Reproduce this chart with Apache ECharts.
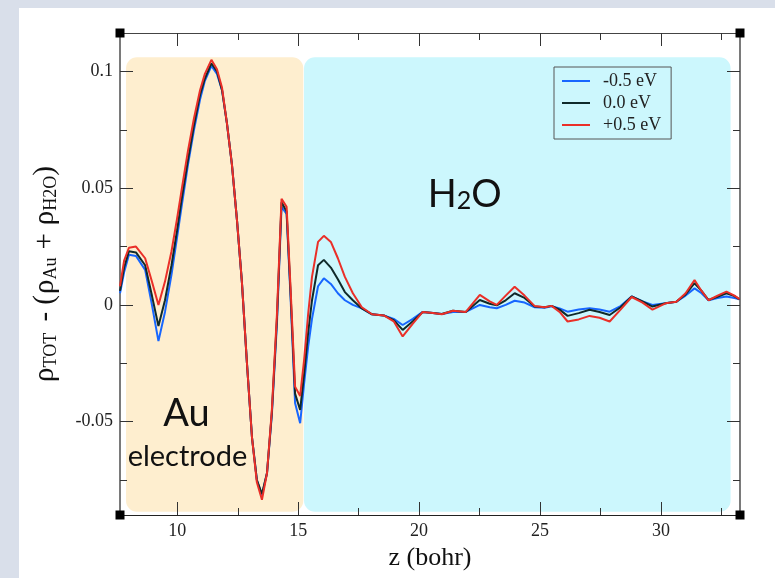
<!DOCTYPE html>
<html>
<head>
<meta charset="utf-8">
<script src="https://cdn.jsdelivr.net/npm/echarts@6/dist/echarts.min.js"></script>
<style>
  html, body { margin: 0; padding: 0; background: #d9dfea; }
  #chart { width: 775px; height: 578px; }
</style>
</head>
<body>
<div id="chart"></div>
<script>
// Position along the slab normal, z (bohr)
const Z = [
  7.63, 7.80, 8.00, 8.29, 8.67, 8.95, 9.22, 9.49, 9.76, 9.99,
  10.19, 10.44, 10.69, 10.94, 11.14, 11.41, 11.64, 11.85, 12.05, 12.26,
  12.47, 12.67, 12.88, 13.09, 13.29, 13.50, 13.71, 13.91, 14.12, 14.31,
  14.52, 14.68, 14.87, 15.08, 15.24, 15.41, 15.57, 15.82, 16.06, 16.35,
  16.64, 16.93, 17.26, 17.63, 18.05, 18.54, 18.95, 19.32, 19.74, 20.15,
  20.57, 20.94, 21.40, 21.93, 22.51, 22.92, 23.21, 23.58, 23.95, 24.36,
  24.78, 25.19, 25.48, 25.81, 26.14, 26.60, 27.05, 27.46, 27.88, 28.33,
  28.79, 29.24, 29.65, 30.19, 30.64, 31.02, 31.39, 31.68, 31.97, 32.34,
  32.71, 33.04, 33.25
];

// Charge density difference at -0.5 eV
const RHO_NEG = [
  0.005, 0.014, 0.0215, 0.021, 0.015, 0.000, -0.0155, -0.003, 0.013, 0.029,
  0.043, 0.060, 0.075, 0.088, 0.096, 0.1024, 0.099, 0.092, 0.078, 0.060,
  0.036, 0.010, -0.025, -0.057, -0.075, -0.0815, -0.072, -0.047, -0.008, 0.042,
  0.039, 0.004, -0.042, -0.0507, -0.034, -0.018, -0.006, 0.008, 0.0114, 0.009,
  0.005, 0.002, 0.000, -0.0015, -0.004, -0.0045, -0.006, -0.0086, -0.006, -0.003,
  -0.0035, -0.0039, -0.003, -0.003, 0.000, -0.001, -0.0014, 0.000, 0.0018, 0.001,
  -0.001, -0.0012, -0.0006, -0.0015, -0.0029, -0.002, -0.0014, -0.002, -0.0029, -0.0005,
  0.0036, 0.0015, 0.000, 0.0007, 0.0014, 0.004, 0.0071, 0.005, 0.002, 0.003,
  0.0036, 0.003, 0.0024
];

// Charge density difference at 0.0 eV
const RHO_ZERO = [
  0.006, 0.016, 0.023, 0.0225, 0.017, 0.004, -0.009, 0.002, 0.017, 0.032,
  0.046, 0.062, 0.077, 0.090, 0.097, 0.1035, 0.100, 0.092, 0.078, 0.060,
  0.036, 0.010, -0.025, -0.057, -0.075, -0.081, -0.072, -0.046, -0.006, 0.044,
  0.040, 0.006, -0.038, -0.045, -0.030, -0.012, 0.002, 0.017, 0.0193, 0.016,
  0.011, 0.0055, 0.002, -0.0015, -0.004, -0.0045, -0.0065, -0.0107, -0.007, -0.003,
  -0.0035, -0.0039, -0.0025, -0.003, 0.0021, 0.0005, -0.0002, 0.002, 0.005, 0.003,
  -0.0007, -0.001, -0.0004, -0.002, -0.0047, -0.0035, -0.0021, -0.003, -0.0043, -0.001,
  0.0036, 0.0015, -0.0007, 0.0007, 0.0014, 0.0045, 0.0093, 0.006, 0.0021, 0.0035,
  0.005, 0.0038, 0.0024
];

// Charge density difference at +0.5 eV
const RHO_POS = [
  0.008, 0.019, 0.0245, 0.025, 0.020, 0.010, 0.000, 0.010, 0.023, 0.037,
  0.050, 0.066, 0.080, 0.092, 0.099, 0.105, 0.101, 0.093, 0.078, 0.060,
  0.036, 0.010, -0.025, -0.057, -0.076, -0.0835, -0.072, -0.045, -0.004, 0.0455,
  0.042, 0.008, -0.035, -0.039, -0.024, -0.004, 0.012, 0.027, 0.0296, 0.027,
  0.020, 0.012, 0.005, -0.001, -0.004, -0.0045, -0.007, -0.0135, -0.008, -0.003,
  -0.0035, -0.004, -0.0025, -0.003, 0.0043, 0.0015, 0.000, 0.004, 0.0078, 0.004,
  -0.0005, -0.001, -0.0004, -0.003, -0.0071, -0.0062, -0.0047, -0.0055, -0.0071, -0.002,
  0.0034, 0.001, -0.002, 0.0007, 0.0014, 0.005, 0.0107, 0.006, 0.002, 0.004,
  0.0057, 0.004, 0.0025
];

const SERIES_NAMES = ['-0.5 eV', '0.0 eV', '+0.5 eV'];
const SERIES_COLORS = ['#1766ff', '#0f2a2a', '#ea2f28'];

// Axis ranges and ticks
const X_MIN = 7.63, X_MAX = 33.27;
const Y_MIN = -0.09, Y_MAX = 0.1165;
const X_MAJOR = [10, 15, 20, 25, 30];
const X_MINOR = [12.5, 17.5, 22.5, 27.5, 32.5];
const Y_MAJOR = [-0.05, 0, 0.05, 0.1];
const Y_MINOR = [-0.075, -0.025, 0.025, 0.075];

// Shaded regions (z span and vertical span in data units)
const AU_SPAN = [7.88, 15.21];
const H2O_SPAN = [15.24, 32.88];
const REGION_V = [-0.0886, 0.1061];

const SERIF = '"Liberation Serif", "Times New Roman", serif';
const SANS = 'Lato, "Open Sans", sans-serif';

const chart = echarts.init(document.getElementById('chart'), null, { renderer: 'canvas' });

function makeXAxis(pos, ticks, len, withLabels, lineColor) {
  return {
    type: 'value', position: pos, min: X_MIN, max: X_MAX,
    axisLine: { show: !!lineColor, onZero: false, lineStyle: { color: lineColor || '#000', width: 1 } },
    axisTick: { show: true, inside: true, length: len, customValues: ticks, lineStyle: { color: '#333', width: 1 } },
    axisLabel: withLabels
      ? { show: true, customValues: ticks, margin: 7, fontFamily: SERIF, fontSize: 18, color: '#222' }
      : { show: false },
    splitLine: { show: false }
  };
}
function makeYAxis(pos, ticks, len, withLabels, lineColor) {
  return {
    type: 'value', position: pos, min: Y_MIN, max: Y_MAX,
    axisLine: { show: !!lineColor, onZero: false, lineStyle: { color: lineColor || '#000', width: 2 } },
    axisTick: { show: true, inside: true, length: len, customValues: ticks, lineStyle: { color: '#333', width: 1 } },
    axisLabel: withLabels
      ? { show: true, customValues: ticks, margin: 7, fontFamily: SERIF, fontSize: 18, color: '#222' }
      : { show: false },
    splitLine: { show: false }
  };
}

const xAxes = [
  makeXAxis('bottom', X_MAJOR, 13, true, '#222'),
  makeXAxis('bottom', X_MINOR, 7, false, null),
  makeXAxis('top', X_MAJOR, 13, false, '#444'),
  makeXAxis('top', X_MINOR, 7, false, null)
];
Object.assign(xAxes[0], {
  name: 'z (bohr)', nameLocation: 'middle', nameGap: 24,
  nameTextStyle: { fontFamily: SERIF, fontSize: 26, color: '#111' }
});

const yAxes = [
  makeYAxis('left', Y_MAJOR, 13, true, '#7a7a7a'),
  makeYAxis('left', Y_MINOR, 7, false, null),
  makeYAxis('right', Y_MAJOR, 13, false, '#7a7a7a'),
  makeYAxis('right', Y_MINOR, 7, false, null)
];
Object.assign(yAxes[0], {
  name: '{r|ρ}{s|TOT}{g| - (}{r|ρ}{s|Au}{p|+}{r|ρ}{s|H2O}{r|)}',
  nameLocation: 'middle', nameGap: 60,
  nameTextStyle: {
    fontFamily: SERIF, fontSize: 29, color: '#111',
    rich: {
      r: { fontFamily: SERIF, fontSize: 29, color: '#111' },
      g: { fontFamily: SERIF, fontSize: 29, color: '#111', padding: [0, 1, 0, 4] },
      p: { fontFamily: SERIF, fontSize: 29, color: '#111', padding: [0, 8, 0, 8] },
      s: { fontFamily: SERIF, fontSize: 18, color: '#111', verticalAlign: 'bottom', lineHeight: 12 }
    }
  }
});

const seriesData = [RHO_NEG, RHO_ZERO, RHO_POS];

const option = {
  backgroundColor: '#d9dfea',
  animation: false,
  grid: { left: 120, right: 35, top: 33, bottom: 63, containLabel: false },
  legend: {
    data: SERIES_NAMES,
    orient: 'vertical', left: 554, top: 67,
    icon: 'rect',
    padding: [5, 10, 5, 8], itemGap: 4, itemWidth: 28, itemHeight: 2,
    borderColor: '#555', borderWidth: 1,
    textStyle: { fontFamily: SERIF, fontSize: 18, color: '#222', padding: [0, 0, 0, 8] }
  },
  xAxis: xAxes,
  yAxis: yAxes,
  series: SERIES_NAMES.map((name, i) => ({
    name: name,
    type: 'line',
    xAxisIndex: 0, yAxisIndex: 0,
    data: Z.map((z, k) => [z, seriesData[i][k]]),
    symbol: 'none',
    lineStyle: { color: SERIES_COLORS[i], width: 2 },
    itemStyle: { color: SERIES_COLORS[i] },
    z: 3 + i
  }))
};

chart.setOption(option);

// Decorations placed from data coordinates through the grid
const toPx = (p) => chart.convertToPixel({ gridIndex: 0 }, p);
const au0 = toPx([AU_SPAN[0], REGION_V[1]]), au1 = toPx([AU_SPAN[1], REGION_V[0]]);
const w0 = toPx([H2O_SPAN[0], REGION_V[1]]), w1 = toPx([H2O_SPAN[1], REGION_V[0]]);
const tl = toPx([X_MIN, Y_MAX]), br = toPx([X_MAX, Y_MIN]);
const auLabel = toPx([10.38, -0.0548]);
const elLabel = toPx([10.42, -0.0714]);
const h2oLabel = toPx([21.89, 0.0407]);

const corner = (x, y) => ({
  type: 'rect', z: 10, silent: true,
  shape: { x: x - 4.5, y: y - 4.5, width: 9, height: 9 },
  style: { fill: '#000' }
});

chart.setOption({
  graphic: [
    { type: 'rect', z: -3, silent: true, shape: { x: 19, y: 8, width: 756, height: 570 }, style: { fill: '#ffffff' } },
    { type: 'rect', z: -2, silent: true,
      shape: { x: au0[0], y: au0[1], width: au1[0] - au0[0], height: au1[1] - au0[1], r: 11 },
      style: { fill: '#feeecf' } },
    { type: 'rect', z: -2, silent: true,
      shape: { x: w0[0], y: w0[1], width: w1[0] - w0[0], height: w1[1] - w0[1], r: 11 },
      style: { fill: '#ccf7fd' } },
    { type: 'text', z: 1, silent: true, x: auLabel[0], y: auLabel[1],
      style: { text: 'Au', font: '38px ' + SANS, fill: '#111', align: 'center', verticalAlign: 'bottom' } },
    { type: 'text', z: 1, silent: true, x: elLabel[0], y: elLabel[1],
      style: { text: 'electrode', font: '29px ' + SANS, fill: '#111', align: 'center', verticalAlign: 'bottom' } },
    { type: 'text', z: 1, silent: true, x: h2oLabel[0], y: h2oLabel[1] + 4,
      style: {
        text: '{a|H}{b|2}{a|O}', align: 'center', verticalAlign: 'bottom',
        rich: {
          a: { fontFamily: SANS, fontSize: 38, fill: '#111' },
          b: { fontFamily: SANS, fontSize: 25, fill: '#111', verticalAlign: 'bottom', lineHeight: 22 }
        }
      } },
    corner(tl[0], tl[1]), corner(br[0], tl[1]), corner(tl[0], br[1]), corner(br[0], br[1])
  ]
});
</script>
</body>
</html>
